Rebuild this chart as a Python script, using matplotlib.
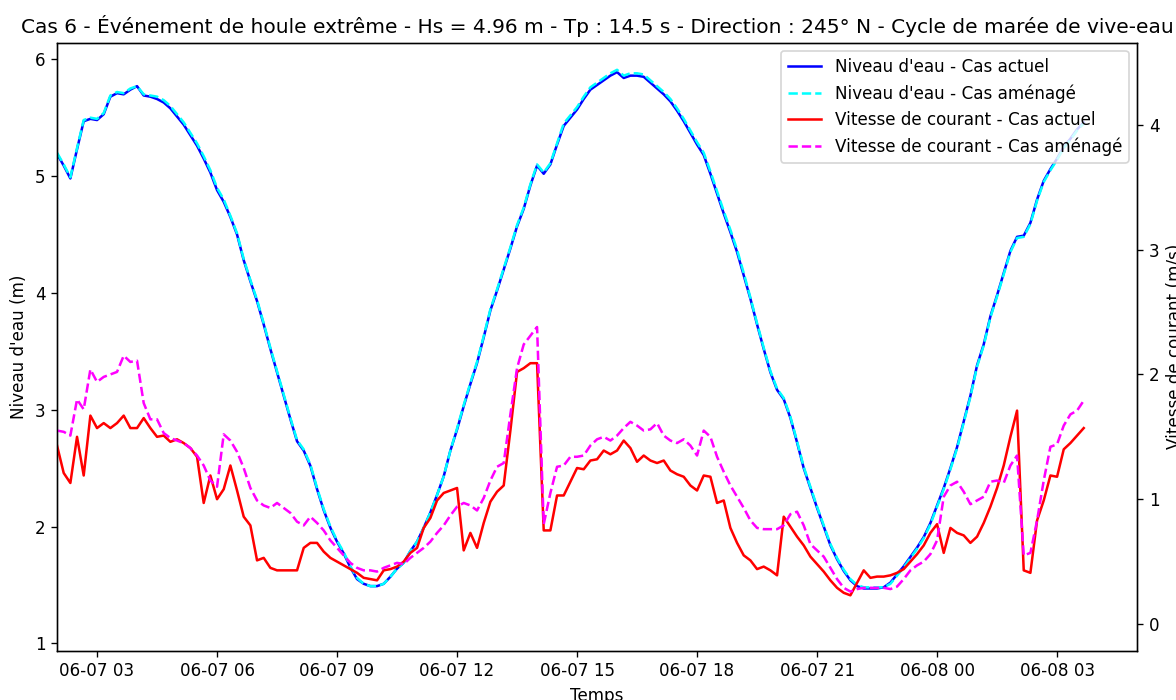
import matplotlib

matplotlib.use("Agg")
import matplotlib.pyplot as plt
import pandas as pd

# 10-min time steps, 06-07 02:00 -> 06-08 03:40
start_time = "2024-06-07 02:00"
n_steps = 155

# Water level (m)
niveau_actuel = [
    5.19, 5.09, 4.98, 5.23, 5.47, 5.49, 5.48, 5.53, 5.68, 5.71,
    5.70, 5.74, 5.77, 5.69, 5.68, 5.66, 5.63, 5.58, 5.51, 5.44,
    5.35, 5.26, 5.15, 5.03, 4.88, 4.78, 4.65, 4.50, 4.28, 4.10,
    3.93, 3.73, 3.52, 3.32, 3.12, 2.92, 2.73, 2.65, 2.52, 2.32,
    2.14, 1.99, 1.87, 1.77, 1.65, 1.55, 1.51, 1.49, 1.49, 1.51,
    1.57, 1.64, 1.69, 1.79, 1.87, 1.99, 2.12, 2.27, 2.43, 2.65,
    2.83, 3.03, 3.22, 3.40, 3.62, 3.85, 4.02, 4.20, 4.38, 4.57,
    4.72, 4.92, 5.09, 5.02, 5.10, 5.27, 5.43, 5.50, 5.57, 5.66,
    5.74, 5.78, 5.82, 5.86, 5.89, 5.84, 5.86, 5.86, 5.85, 5.80,
    5.75, 5.70, 5.64, 5.56, 5.47, 5.37, 5.27, 5.18, 5.02, 4.85,
    4.68, 4.52, 4.35, 4.15, 3.95, 3.73, 3.52, 3.32, 3.17, 3.09,
    2.93, 2.72, 2.50, 2.33, 2.16, 2.00, 1.84, 1.72, 1.62, 1.54,
    1.49, 1.47, 1.47, 1.47, 1.48, 1.52, 1.59, 1.66, 1.74, 1.82,
    1.91, 2.03, 2.18, 2.33, 2.50, 2.68, 2.90, 3.12, 3.38, 3.56,
    3.80, 3.98, 4.17, 4.36, 4.48, 4.49, 4.60, 4.80, 4.96, 5.06,
    5.15, 5.25, 5.32, 5.40, 5.46,
]
niveau_amenage = [
    5.20, 5.10, 4.99, 5.24, 5.48, 5.50, 5.49, 5.54, 5.69, 5.72,
    5.71, 5.75, 5.77, 5.70, 5.69, 5.68, 5.65, 5.60, 5.53, 5.46,
    5.37, 5.28, 5.17, 5.05, 4.90, 4.80, 4.66, 4.51, 4.29, 4.11,
    3.94, 3.74, 3.53, 3.33, 3.13, 2.93, 2.74, 2.66, 2.53, 2.33,
    2.15, 2.00, 1.88, 1.78, 1.66, 1.56, 1.51, 1.49, 1.49, 1.51,
    1.57, 1.64, 1.69, 1.79, 1.87, 1.99, 2.12, 2.27, 2.43, 2.65,
    2.84, 3.04, 3.23, 3.41, 3.63, 3.86, 4.03, 4.21, 4.39, 4.58,
    4.73, 4.93, 5.10, 5.03, 5.11, 5.28, 5.45, 5.52, 5.59, 5.68,
    5.76, 5.80, 5.84, 5.88, 5.91, 5.86, 5.88, 5.88, 5.87, 5.82,
    5.77, 5.72, 5.66, 5.58, 5.49, 5.39, 5.29, 5.20, 5.04, 4.87,
    4.70, 4.54, 4.37, 4.17, 3.96, 3.74, 3.53, 3.33, 3.18, 3.10,
    2.94, 2.73, 2.51, 2.34, 2.17, 2.01, 1.85, 1.73, 1.63, 1.55,
    1.50, 1.48, 1.48, 1.48, 1.48, 1.51, 1.58, 1.65, 1.73, 1.81,
    1.90, 2.02, 2.17, 2.32, 2.49, 2.67, 2.89, 3.11, 3.37, 3.55,
    3.79, 3.97, 4.16, 4.35, 4.47, 4.48, 4.59, 4.79, 4.95, 5.05,
    5.14, 5.24, 5.31, 5.39, 5.45,
]

# Current speed (m/s)
vitesse_actuel = [
    1.43, 1.21, 1.13, 1.50, 1.19, 1.67, 1.57, 1.61, 1.57, 1.61,
    1.67, 1.57, 1.57, 1.65, 1.57, 1.50, 1.51, 1.46, 1.48, 1.45,
    1.41, 1.34, 0.97, 1.19, 1.00, 1.08, 1.27, 1.07, 0.86, 0.79,
    0.51, 0.53, 0.45, 0.43, 0.43, 0.43, 0.43, 0.61, 0.65, 0.65,
    0.58, 0.53, 0.50, 0.47, 0.44, 0.41, 0.37, 0.36, 0.35, 0.43,
    0.44, 0.46, 0.50, 0.57, 0.61, 0.77, 0.85, 0.99, 1.05, 1.07,
    1.09, 0.59, 0.73, 0.61, 0.81, 0.98, 1.06, 1.11, 1.55, 2.02,
    2.05, 2.09, 2.09, 0.75, 0.75, 1.03, 1.03, 1.14, 1.25, 1.24,
    1.31, 1.32, 1.39, 1.36, 1.39, 1.47, 1.41, 1.30, 1.35, 1.31,
    1.29, 1.31, 1.23, 1.20, 1.18, 1.11, 1.07, 1.19, 1.18, 0.97,
    0.99, 0.77, 0.65, 0.55, 0.51, 0.44, 0.46, 0.43, 0.39, 0.86,
    0.78, 0.70, 0.63, 0.54, 0.48, 0.42, 0.35, 0.29, 0.25, 0.23,
    0.33, 0.43, 0.37, 0.38, 0.38, 0.39, 0.41, 0.44, 0.50, 0.56,
    0.63, 0.73, 0.80, 0.57, 0.77, 0.73, 0.71, 0.65, 0.70, 0.81,
    0.94, 1.09, 1.27, 1.50, 1.71, 0.43, 0.41, 0.83, 0.99, 1.19,
    1.18, 1.40, 1.45, 1.51, 1.57,
]
vitesse_amenage = [
    1.55, 1.54, 1.51, 1.80, 1.72, 2.04, 1.94, 1.98, 2.00, 2.02,
    2.15, 2.10, 2.11, 1.77, 1.64, 1.64, 1.53, 1.49, 1.47, 1.45,
    1.41, 1.35, 1.27, 1.15, 1.10, 1.52, 1.47, 1.38, 1.25, 1.09,
    0.99, 0.95, 0.93, 0.97, 0.93, 0.89, 0.82, 0.79, 0.86, 0.81,
    0.75, 0.67, 0.61, 0.55, 0.49, 0.45, 0.43, 0.43, 0.42, 0.45,
    0.47, 0.49, 0.48, 0.53, 0.57, 0.61, 0.66, 0.73, 0.79, 0.87,
    0.94, 0.97, 0.95, 0.91, 1.01, 1.15, 1.26, 1.29, 1.68, 2.05,
    2.24, 2.31, 2.38, 0.80, 1.05, 1.26, 1.27, 1.34, 1.34, 1.35,
    1.43, 1.48, 1.50, 1.47, 1.51, 1.57, 1.62, 1.59, 1.55, 1.56,
    1.61, 1.51, 1.47, 1.45, 1.48, 1.43, 1.35, 1.55, 1.50, 1.34,
    1.22, 1.11, 1.02, 0.93, 0.83, 0.77, 0.76, 0.76, 0.76, 0.79,
    0.88, 0.90, 0.79, 0.64, 0.59, 0.54, 0.45, 0.36, 0.29, 0.26,
    0.28, 0.29, 0.29, 0.29, 0.29, 0.28, 0.30, 0.36, 0.43, 0.47,
    0.50, 0.56, 0.67, 1.02, 1.11, 1.14, 1.06, 0.96, 0.99, 1.02,
    1.14, 1.15, 1.13, 1.27, 1.35, 0.55, 0.57, 0.83, 1.15, 1.42,
    1.44, 1.59, 1.68, 1.71, 1.79,
]

title = ("Cas 6 - Événement de houle extrême - Hs = 4.96 m - Tp : 14.5 s - "
         "Direction : 245° N - Cycle de marée de vive-eau")

temps = pd.date_range(start_time, periods=n_steps, freq="10min")

dpi = 121
fig = plt.figure(figsize=(1176 / dpi, 700 / dpi), dpi=dpi)
ax1 = fig.add_axes([0.0485, 0.0704, 0.9184, 0.8686])
ax2 = ax1.twinx()

l1, = ax1.plot(temps, niveau_actuel, color="blue", label="Niveau d'eau - Cas actuel")
l2, = ax1.plot(temps, niveau_amenage, color="cyan", linestyle="--", label="Niveau d'eau - Cas aménagé")
l3, = ax2.plot(temps, vitesse_actuel, color="red", label="Vitesse de courant - Cas actuel")
l4, = ax2.plot(temps, vitesse_amenage, color="magenta", linestyle="--", label="Vitesse de courant - Cas aménagé")

ax1.set_xlim(pd.Timestamp("2024-06-07 02:00"), pd.Timestamp("2024-06-08 05:00"))
ax1.set_ylim(0.937, 6.142)
ax2.set_ylim(-0.214, 4.658)

ax1.set_xlabel("Temps")
ax1.set_ylabel("Niveau d'eau (m)")
ax2.set_ylabel("Vitesse de courant (m/s)")
ax1.set_title(title)

handles = [l1, l2, l3, l4]
ax2.legend(handles, [h.get_label() for h in handles], loc="upper right")

fig.savefig("out.png", dpi=dpi)
